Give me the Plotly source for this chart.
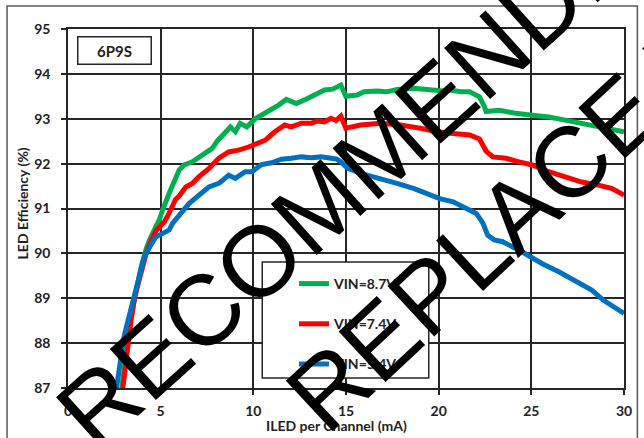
import plotly.graph_objects as go

# ---- data: LED efficiency (%) vs LED current per channel (mA), 6P9S ----
green_x = [2.9, 3.1, 3.33, 3.5, 3.69, 3.95, 4.22, 4.4, 4.75, 4.93, 5.1, 5.25, 5.46, 5.75, 6.0, 6.27,
           6.71, 7.24, 7.78, 8.05, 8.31, 8.55, 8.76, 9.03, 9.29, 9.65, 10.1, 10.45, 10.98, 11.34,
           11.78, 12.05, 12.32, 12.76, 13.3, 13.84, 14.28, 14.5, 14.72, 14.99, 15.3, 15.61, 15.97,
           16.68, 17.2, 17.75, 18.64, 19.53, 20.25, 20.6, 21.2, 21.67, 22.2, 22.47, 22.56, 23.27,
           24.16, 25.05, 25.94, 26.83, 27.72, 28.61, 29.33, 30.0]
green_y = [87.0, 87.7, 88.36, 88.8, 89.2, 89.7, 90.1, 90.3, 90.6, 90.75, 90.96, 91.15, 91.34, 91.62,
           91.86, 91.97, 92.04, 92.19, 92.34, 92.5, 92.6, 92.72, 92.82, 92.71, 92.9, 92.82, 93.0,
           93.08, 93.19, 93.3, 93.43, 93.38, 93.34, 93.42, 93.53, 93.64, 93.66, 93.7, 93.75, 93.5,
           93.52, 93.53, 93.6, 93.62, 93.6, 93.65, 93.68, 93.65, 93.62, 93.64, 93.6, 93.6, 93.49,
           93.27, 93.16, 93.19, 93.12, 93.08, 93.04, 92.97, 92.9, 92.82, 92.79, 92.71]

red_x = [2.96, 3.2, 3.4, 3.6, 3.86, 4.22, 4.5, 4.75, 5.0, 5.2, 5.4, 5.64, 5.8, 6.0, 6.36, 6.71, 7.07,
         7.6, 8.14, 8.67, 9.2, 9.74, 10.27, 10.63, 11.16, 11.7, 12.05, 12.59, 13.12, 13.5, 13.84,
         14.19, 14.46, 14.72, 14.99, 15.3, 15.79, 16.86, 17.93, 19.0, 19.89, 20.78, 21.67, 22.2,
         22.38, 22.56, 22.92, 23.63, 24.34, 25.05, 25.94, 26.83, 27.72, 28.61, 29.33, 30.0]
red_y = [87.0, 87.9, 88.5, 89.03, 89.48, 90.0, 90.3, 90.5, 90.62, 90.7, 90.85, 91.1, 91.2, 91.28,
         91.48, 91.56, 91.71, 91.89, 92.12, 92.26, 92.3, 92.37, 92.45, 92.52, 92.71, 92.86, 92.82,
         92.9, 92.9, 92.95, 92.93, 93.01, 92.96, 93.06, 92.79, 92.82, 92.86, 92.9, 92.86, 92.79,
         92.71, 92.67, 92.64, 92.55, 92.4, 92.28, 92.15, 92.12, 92.04, 91.97, 91.82, 91.71, 91.59,
         91.52, 91.45, 91.3]

blue_x = [2.62, 2.8, 3.0, 3.15, 3.5, 3.86, 4.1, 4.4, 4.75, 5.1, 5.46, 5.64, 6.0, 6.53, 7.07, 7.6,
          8.14, 8.67, 9.03, 9.56, 9.92, 10.45, 10.98, 11.52, 12.05, 12.59, 13.12, 13.65, 14.19,
          14.5, 14.72, 15.08, 15.79, 16.86, 17.75, 18.64, 19.53, 20.06, 20.78, 21.49, 22.03, 22.38,
          22.65, 23.0, 23.45, 24.52, 25.59, 26.48, 27.37, 28.26, 28.88, 30.0]
blue_y = [87.0, 87.6, 88.1, 88.36, 88.96, 89.55, 89.9, 90.14, 90.37, 90.44, 90.52, 90.67, 90.85,
          91.11, 91.3, 91.48, 91.56, 91.74, 91.67, 91.82, 91.82, 91.98, 92.02, 92.1, 92.12, 92.15,
          92.13, 92.15, 92.12, 92.1, 92.04, 91.9, 91.78, 91.67, 91.56, 91.45, 91.3, 91.22, 91.15,
          91.0, 90.89, 90.68, 90.4, 90.3, 90.26, 90.03, 89.77, 89.59, 89.4, 89.18, 88.96, 88.66]

series_names = ["VIN=8.7V", "VIN=7.4V", "VIN=5.4V"]
series_colors = ["#00B050", "#FF0000", "#0070C0"]

x_ticks = [0, 5, 10, 15, 20, 25, 30]
y_ticks = [87, 88, 89, 90, 91, 92, 93, 94, 95]

# ---- layout geometry (pixels) ----
W, H = 644, 438
ML, MR, MT, MB = 68, 15, 29, 50
PW, PH = W - ML - MR, H - MT - MB


def px(xp):
    return (xp - ML) / PW


def py(yp):
    return 1 - (yp - MT) / PH


TXT = "#222222"
FONT = "Lato"

fig = go.Figure()
for xs, ys, name, col in zip([green_x, red_x, blue_x], [green_y, red_y, blue_y],
                             series_names, series_colors):
    fig.add_trace(go.Scatter(x=xs, y=ys, mode="lines", name=name, legendgroup=name,
                             line=dict(color=col, width=5)))

axis_common = dict(showgrid=True, gridcolor="#262626", gridwidth=1.5,
                   showline=True, linecolor="#262626", linewidth=1.5, mirror=True,
                   ticks="outside", ticklen=5, tickwidth=1.5, tickcolor="#262626",
                   tickfont=dict(family=FONT, size=14, color=TXT, weight="bold"),
                   zeroline=False, fixedrange=True)

fig.update_xaxes(range=[0, 30], tickvals=x_ticks, ticktext=[str(v) for v in x_ticks],
                 ticklabelstandoff=4, **axis_common)
fig.update_yaxes(range=[87, 95], tickvals=y_ticks, ticktext=[str(v) for v in y_ticks],
                 ticklabelstandoff=8, **axis_common)

shapes = [
    # outer chart frame
    dict(type="rect", xref="paper", yref="paper", x0=px(6.5), x1=px(642.5), y0=py(446), y1=py(6),
         line=dict(color="#5a5a5a", width=1.5), fillcolor="rgba(0,0,0,0)", layer="below"),
    # legend frame
    dict(type="rect", xref="paper", yref="paper", x0=px(264), x1=px(432), y0=py(378), y1=py(262),
         line=dict(color="#262626", width=1.5), fillcolor="white", layer="above"),
]


def label(text, cx, cy, **kw):
    return dict(text=text, x=px(cx), y=py(cy), xref="paper", yref="paper",
                xanchor="center", yanchor="middle", showarrow=False, **kw)


bold = dict(family=FONT, size=14, color=TXT, weight="bold")
mark_font = dict(family="Liberation Sans", size=100, color="black")

annotations = [
    label("ILED per Channel (mA)", 339, 425, font=bold),
    label("LED Efficiency (%)", 22, 203, textangle=-90, font=bold),
    label("6P9S", 114.5, 50.5, width=70, height=24, bgcolor="white",
          bordercolor="#262626", borderwidth=1.5, font=dict(bold, size=15)),
    # watermark
    label("RECOMMENDED", 375, 158, textangle=-42, font=mark_font),
    label("REPLACE WITH", 582, 155, textangle=-43, font=mark_font),
]

fig.update_layout(
    width=W, height=H,
    margin=dict(l=ML, r=MR, t=MT, b=MB, pad=0),
    paper_bgcolor="white", plot_bgcolor="white",
    showlegend=True,
    legend=dict(x=px(296), y=py(268), xanchor="left", yanchor="top",
                bgcolor="rgba(0,0,0,0)", borderwidth=0, tracegroupgap=19,
                font=dict(family=FONT, size=14, color=TXT, weight="bold")),
    shapes=shapes,
    annotations=annotations,
)

fig.write_html("out.html")
